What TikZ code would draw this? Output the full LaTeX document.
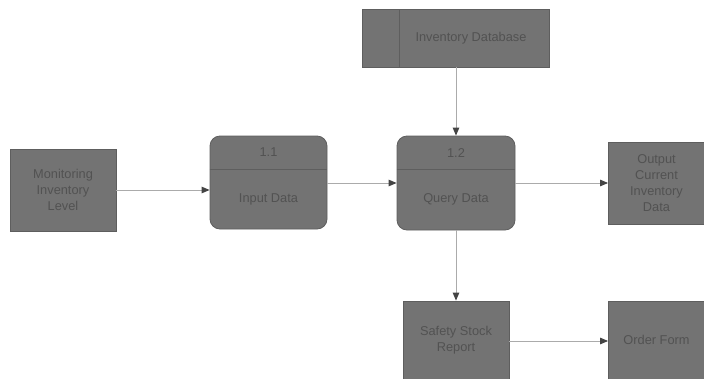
\documentclass[tikz,border=0pt]{standalone}
\usepackage{fontspec}
\setmainfont{Liberation Sans}
\usetikzlibrary{arrows.meta}
\definecolor{boxfill}{HTML}{737373}
\definecolor{boxline}{HTML}{5E5E5E}
\definecolor{txt}{HTML}{525252}
\definecolor{wire}{HTML}{ABABAB}
\definecolor{tip}{HTML}{444444}
\tikzset{
  ent/.style={draw=boxline, fill=boxfill, text=txt, align=center, inner sep=0pt, line width=0.8pt, font=\fontsize{12.8}{15.8}\selectfont},
  proc/.style={ent, rounded corners=10pt},
  lbl/.style={text=txt, inner sep=0pt, font=\fontsize{12.8}{15.8}\selectfont},
  flow/.style={draw=wire, line width=1pt, -{Triangle[length=8pt,width=6.5pt,color=tip]}},
}
\begin{document}
\begin{tikzpicture}[x=1pt,y=-1pt]
\useasboundingbox (0,0) rectangle (704,378);
% external entities
\node[ent, minimum width=106pt, minimum height=82pt] (mon) at (63,190) {Monitoring\\Inventory\\Level};
\node[ent, minimum width=96pt, minimum height=82pt] (out) at (656.5,183) {Output\\Current\\Inventory\\Data};
\node[ent, minimum width=106pt, minimum height=78pt] (ssr) at (456,340) {Safety Stock\\Report};
\node[ent, minimum width=96pt, minimum height=78pt] (ord) at (656.5,340) {Order Form};
% data store
\node[ent, minimum width=187pt, minimum height=58pt] (db) at (455.5,38) {};
\draw[boxline, line width=0.8pt] (399,9) -- (399,67);
\node[lbl] (dbt) at (471,38) {Inventory Database};
% processes
\node[proc, minimum width=117pt, minimum height=93pt] (p1) at (268.5,182.5) {};
\draw[boxline, line width=0.8pt] (p1.west |- 0,169) -- (p1.east |- 0,169);
\node[lbl] (p1n) at (268.5,152.5) {1.1};
\node[lbl] (p1t) at (268.5,199) {Input Data};
\node[proc, minimum width=118pt, minimum height=94pt] (p2) at (456,183) {};
\draw[boxline, line width=0.8pt] (p2.west |- 0,169) -- (p2.east |- 0,169);
\node[lbl] (p2n) at (456,153) {1.2};
\node[lbl] (p2t) at (456,199) {Query Data};
% flows
\draw[flow] (mon.east |- 0,190) -- (p1.west |- 0,190);
\draw[flow] (p1.east |- 0,183) -- (p2.west |- 0,183);
\draw[flow] (p2.east |- 0,183) -- (out.west |- 0,183);
\draw[flow] (db.south -| 456,0) -- (p2.north);
\draw[flow] (p2.south) -- (ssr.north);
\draw[flow] (ssr.east |- 0,341) -- (ord.west |- 0,341);
\end{tikzpicture}
\end{document}
